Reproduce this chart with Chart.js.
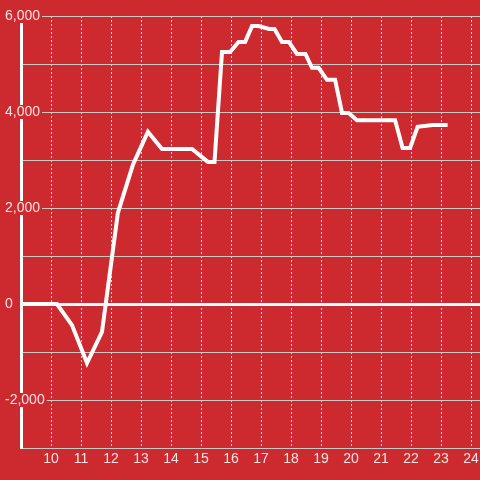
<!DOCTYPE html>
<html>
<head>
<meta charset="utf-8">
<script src="https://cdn.jsdelivr.net/npm/chart.js@4"></script>
<style>
  html, body { margin: 0; padding: 0; background: #cc2a2f; }
  #wrap { width: 480px; height: 480px; }
</style>
</head>
<body>
<div id="wrap"><canvas id="line-chart"></canvas></div>
<script>
// hour of day -> value
var hours = [9, 10.2, 10.7, 11.2, 11.7, 12.23, 12.73, 13.23, 13.7, 14.7, 15.23, 15.45,
  15.7, 15.97, 16.25, 16.47, 16.7, 16.92, 17.27, 17.45, 17.7, 17.93, 18.2, 18.48,
  18.7, 18.92, 19.2, 19.47, 19.7, 19.92, 20.2, 21.47, 21.72, 21.97, 22.22, 22.72, 23.22];
var values = [0, 0, -440, -1230, -580, 1900, 2900, 3590, 3230, 3230, 2960, 2960,
  5250, 5250, 5460, 5460, 5790, 5790, 5730, 5730, 5460, 5460, 5210, 5210,
  4920, 4920, 4670, 4670, 3980, 3980, 3830, 3830, 3250, 3250, 3690, 3730, 3730];

// axis ranges
var xMin = 9, xMax = 24.3;
var yMin = -3000, yMax = 6000;

var bg = '#cc2a2f';
var textColor = '#f4e4e4';

var points = hours.map(function (h, i) { return { x: h, y: values[i] }; });

new Chart(document.getElementById("line-chart"), {
  type: 'line',
  data: {
    datasets: [{
      data: points,
      borderColor: '#ffffff',
      borderWidth: 4,
      pointRadius: 0,
      tension: 0,
      fill: false
    }]
  },
  options: {
    responsive: true,
    maintainAspectRatio: false,
    animation: false,
    layout: { padding: { left: 5, top: 16, right: 0, bottom: 0 } },
    plugins: { legend: { display: false }, tooltip: { enabled: false } },
    scales: {
      x: {
        type: 'linear',
        min: xMin,
        max: xMax,
        grid: {
          drawTicks: false,
          color: function (ctx) { return ctx.tick && ctx.tick.value === xMin ? 'rgba(0,0,0,0)' : 'rgba(255,255,255,0.8)'; },
          lineWidth: 1
        },
        border: { display: false, dash: [2, 2] },
        ticks: {
          stepSize: 1,
          includeBounds: false,
          padding: 3,
          color: textColor,
          font: { family: 'Liberation Sans, Arial, sans-serif', size: 14 },
          callback: function (v) { return v === xMin ? '' : String(v); }
        },
        afterFit: function (scale) { scale.height = 32; scale.paddingRight = 0; scale.paddingLeft = 0; }
      },
      y: {
        min: yMin,
        max: yMax,
        border: { display: true, color: '#ffffff', width: 3 },
        grid: {
          drawTicks: false,
          color: function (ctx) { return ctx.tick && ctx.tick.value === 0 ? '#ffffff' : '#c8c8c8'; },
          lineWidth: function (ctx) { return ctx.tick && ctx.tick.value === 0 ? 3 : 1; }
        },
        ticks: {
          stepSize: 1000,
          mirror: true,
          padding: -16,
          color: textColor,
          font: { family: 'Liberation Sans, Arial, sans-serif', size: 14, lineHeight: 1 },
          showLabelBackdrop: function (ctx) { return ctx.tick && ctx.tick.value % 2000 === 0; },
          backdropColor: bg,
          backdropPadding: { x: 2, y: 0 },
          callback: function (v) { return v % 2000 === 0 ? v.toLocaleString('en-US') : ''; }
        },
        afterFit: function (scale) { scale.width = 16; scale.paddingTop = 0; scale.paddingBottom = 0; }
      }
    }
  }
});
</script>
</body>
</html>
